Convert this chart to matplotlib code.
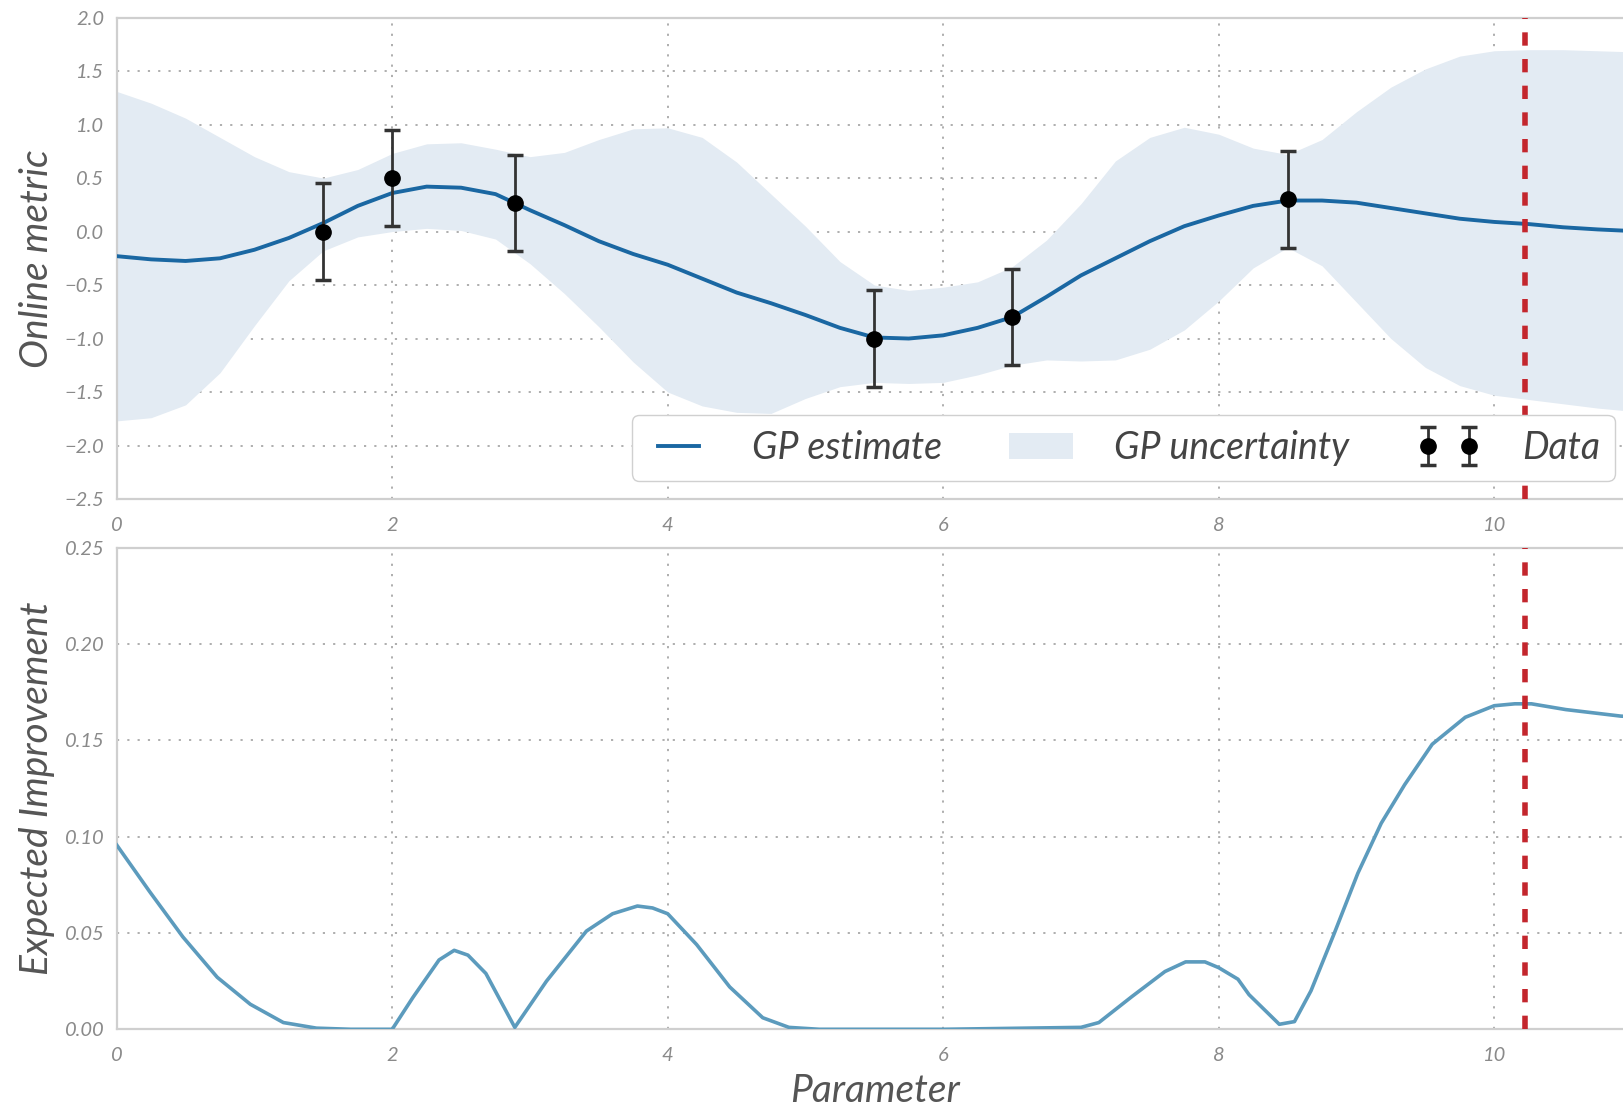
import matplotlib
matplotlib.use("Agg")
import matplotlib.pyplot as plt
from matplotlib.patches import Patch
from matplotlib.lines import Line2D

plt.rcParams['font.family'] = ['Lato', 'DejaVu Sans']
plt.rcParams['font.style'] = 'italic'

# GP posterior
gp_x = [0.0, 0.25, 0.5, 0.75, 1.0, 1.25, 1.5, 1.75, 2.0, 2.25, 2.5, 2.75, 3.0, 3.25, 3.5,
        3.75, 4.0, 4.25, 4.5, 4.75, 5.0, 5.25, 5.5, 5.75, 6.0, 6.25, 6.5, 6.75, 7.0, 7.25,
        7.5, 7.75, 8.0, 8.25, 8.5, 8.75, 9.0, 9.25, 9.5, 9.75, 10.0, 10.25, 10.5, 10.75, 11.0, 11.1]
gp_mean = [-0.23, -0.26, -0.275, -0.25, -0.17, -0.06, 0.08, 0.24, 0.36, 0.42, 0.41, 0.35, 0.20,
           0.06, -0.09, -0.21, -0.31, -0.44, -0.57, -0.67, -0.78, -0.90, -0.99, -1.00, -0.97,
           -0.90, -0.80, -0.61, -0.41, -0.25, -0.09, 0.05, 0.15, 0.24, 0.29, 0.29, 0.27, 0.22,
           0.17, 0.12, 0.09, 0.07, 0.04, 0.02, 0.005, 0.0]
gp_upper = [1.31, 1.20, 1.06, 0.88, 0.70, 0.56, 0.50, 0.58, 0.73, 0.82, 0.83, 0.77, 0.70, 0.74,
            0.86, 0.96, 0.97, 0.88, 0.65, 0.35, 0.05, -0.28, -0.50, -0.55, -0.52, -0.47, -0.33,
            -0.08, 0.26, 0.66, 0.88, 0.975, 0.91, 0.78, 0.72, 0.86, 1.12, 1.35, 1.52, 1.64, 1.69,
            1.70, 1.70, 1.69, 1.68, 1.68]
gp_lower = [-1.77, -1.74, -1.62, -1.32, -0.88, -0.46, -0.18, -0.05, 0.0, 0.03, 0.01, -0.07, -0.30,
            -0.58, -0.89, -1.22, -1.50, -1.63, -1.69, -1.70, -1.56, -1.45, -1.41, -1.42, -1.41,
            -1.34, -1.25, -1.20, -1.21, -1.20, -1.10, -0.92, -0.65, -0.34, -0.15, -0.32, -0.66,
            -1.00, -1.27, -1.44, -1.53, -1.57, -1.61, -1.65, -1.68, -1.69]

# observations
obs_x = [1.5, 2.0, 2.89, 5.5, 6.5, 8.5]
obs_y = [0.0, 0.5, 0.27, -1.0, -0.8, 0.3]
obs_err = [0.45, 0.45, 0.45, 0.45, 0.45, 0.45]

# expected improvement
ei_x = [0.0, 0.24, 0.48, 0.73, 0.97, 1.21, 1.45, 1.7, 2.0, 2.15, 2.34, 2.45, 2.55, 2.68, 2.89,
        3.12, 3.41, 3.6, 3.78, 3.89, 4.0, 4.21, 4.45, 4.69, 4.88, 5.1, 6.0, 7.0, 7.13, 7.37,
        7.61, 7.76, 7.9, 8.0, 8.14, 8.22, 8.44, 8.55, 8.67, 8.84, 9.01, 9.18, 9.35, 9.55, 9.79,
        10.0, 10.15, 10.27, 10.52, 10.92, 11.1]
ei_y = [0.0957, 0.0714, 0.048, 0.027, 0.013, 0.0035, 0.0006, 0.0, 0.0, 0.0165, 0.036, 0.041,
        0.0385, 0.029, 0.001, 0.025, 0.051, 0.060, 0.064, 0.063, 0.060, 0.044, 0.022, 0.006,
        0.001, 0.0, 0.0, 0.001, 0.0035, 0.017, 0.030, 0.035, 0.035, 0.032, 0.026, 0.018, 0.0026,
        0.004, 0.020, 0.050, 0.081, 0.107, 0.127, 0.148, 0.162, 0.168, 0.169, 0.169, 0.166,
        0.1626, 0.162]

next_x = 10.22

MEAN_C = '#1a67a2'
BAND_C = '#e3ebf3'
EI_C = '#5c9bbd'
RED = '#c3262d'
TICK_C = '#8a8a8a'
LABEL_C = '#555555'

W, H = 1624, 1109
fig = plt.figure(figsize=(W / 100, H / 100), dpi=100)
left = 116.7 / W
right_px = 1640
ax1 = fig.add_axes([left, 1 - 499 / H, (right_px - 116.7) / W, (499 - 17.6) / H])
ax2 = fig.add_axes([left, 1 - 1029.3 / H, (right_px - 116.7) / W, (1029.3 - 547.8) / H])
xmax = (right_px - 116.7) / 137.75

grid_ls = (0, (1.2, 4.5))
for ax in (ax1, ax2):
    ax.set_xlim(0, xmax)
    ax.set_xticks([0, 2, 4, 6, 8, 10])
    ax.grid(True, linestyle=grid_ls, color='#a8a8a8', linewidth=1.3)
    ax.set_axisbelow(True)
    for s in ax.spines.values():
        s.set_color('#cfcfcf')
        s.set_linewidth(1.6)
    ax.tick_params(length=0, labelsize=14.5, colors=TICK_C, pad=9)
    ax.tick_params(axis='x', pad=13)

ax1.fill_between(gp_x, gp_lower, gp_upper, color=BAND_C, linewidth=0, zorder=1)
ax1.plot(gp_x, gp_mean, color=MEAN_C, lw=2.8, zorder=3)
h_data = ax1.errorbar(obs_x, obs_y, yerr=obs_err, fmt='o', color='black', ms=11,
                      ecolor='#333333', elinewidth=2, capsize=6, capthick=2.5, zorder=4)
ax1.axvline(next_x, color=RED, lw=4, linestyle=(0, (2.4, 2.4)), zorder=5)
ax1.set_ylim(-2.5, 2.0)
ax1.set_yticks([-2.5, -2.0, -1.5, -1.0, -0.5, 0.0, 0.5, 1.0, 1.5, 2.0])
ax1.set_ylabel('Online metric', fontsize=28, color=LABEL_C, labelpad=7)

ax2.plot(ei_x, ei_y, color=EI_C, lw=2.6, zorder=3)
ax2.axvline(next_x, color=RED, lw=4, linestyle=(0, (2.4, 2.4)), zorder=5)
ax2.set_ylim(0, 0.25)
ax2.set_yticks([0.0, 0.05, 0.10, 0.15, 0.20, 0.25])
ax2.set_yticklabels(['0.00', '0.05', '0.10', '0.15', '0.20', '0.25'])
ax2.set_ylabel('Expected Improvement', fontsize=28, color=LABEL_C, labelpad=7)
ax2.set_xlabel('Parameter', fontsize=28, color=LABEL_C)
ax2.xaxis.set_label_coords((875 - 116.7) / (right_px - 116.7), -0.09)

h_line = Line2D([], [], color=MEAN_C, lw=2.8)
h_band = Patch(facecolor=BAND_C, edgecolor='none')
leg = fig.legend([h_line, h_band, h_data], ['GP estimate', 'GP uncertainty', 'Data'],
                 loc='lower right', bbox_to_anchor=(1615 / W, 1 - 481 / H), ncol=3,
                 fontsize=27, numpoints=2, frameon=True, fancybox=True, framealpha=1,
                 edgecolor='#d0d0d0', borderpad=0.4, columnspacing=1.8, handlelength=1.7,
                 handletextpad=1.1, borderaxespad=0)
for t in leg.get_texts():
    t.set_color('#444444')

fig.savefig('out.png', dpi=100)
